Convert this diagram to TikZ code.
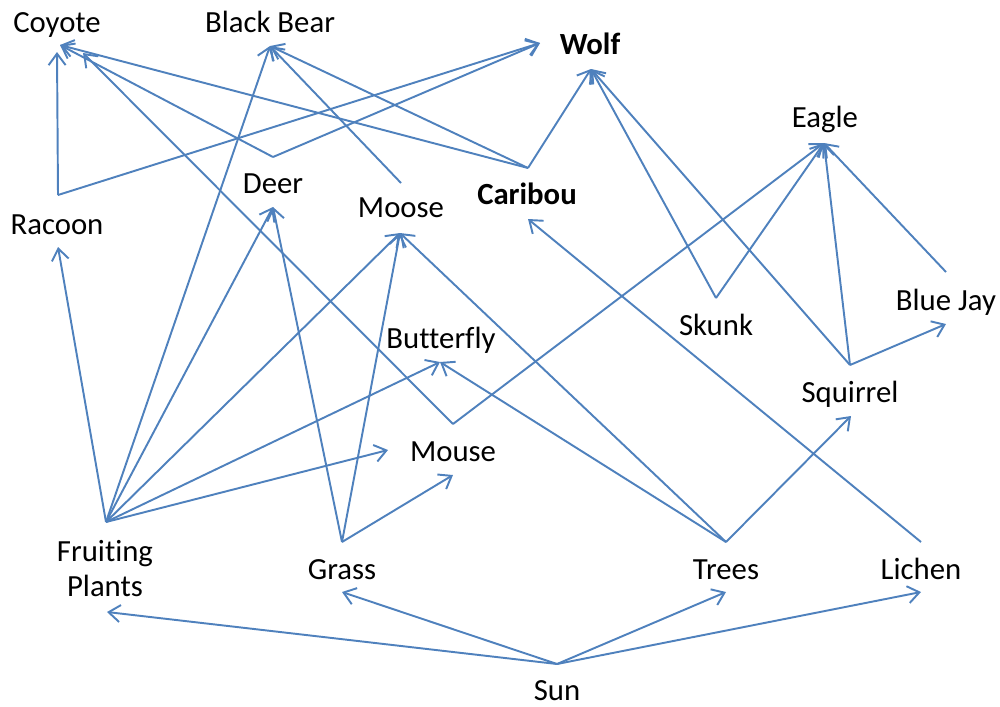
\documentclass[tikz,border=0pt]{standalone}
\usepackage{fontspec}
\setmainfont{Carlito}[Ligatures=NoCommon]
\usepackage{tikz}
\usetikzlibrary{arrows.meta}

\begin{document}
\begin{tikzpicture}[x=0.2mm, y=-0.2mm]
  % Define colors
  \definecolor{webblue}{RGB}{79,129,189}

  % Styles
  \tikzset{
    species/.style={font=\fontsize{17.5}{20}\selectfont, inner sep=0pt, anchor=base},
    feeds/.style={draw=webblue, line width=1.1pt, -{Straight Barb[length=2.3mm, width=3.4mm]}}
  }

  \useasboundingbox (0,0) rectangle (1000,706);

  % Species labels (x, baseline y)
  \foreach \name/\x/\y/\txt in {
    coyote/57/32/Coyote,
    bear/270/32/Black Bear,
    eagle/825/127/Eagle,
    deer/273/193/Deer,
    moose/401/217/Moose,
    racoon/57/234/Racoon,
    skunk/716/335/Skunk,
    bluejay/946/310/Blue Jay,
    butterfly/441/348/Butterfly,
    squirrel/850/402/Squirrel,
    mouse/453/461/Mouse,
    grass/342/579/Grass,
    trees/726/579/Trees,
    lichen/921/579/Lichen,
    sun/557/700/Sun%
  } {
    \node[species] (\name) at (\x,\y) {\txt};
  }

  % Top predators in bold
  \node[species, font=\fontsize{17.5}{20}\selectfont\bfseries] (wolf) at (590,54) {Wolf};
  \node[species, font=\fontsize{17.5}{20}\selectfont\bfseries] (caribou) at (527,204) {Caribou};

  % Two-line label
  \node[species, anchor=north, align=center] (fp) at (105,540) {Fruiting\\Plants};

  % Where the connectors leave and arrive
  \foreach \name/\x/\y in {
    sun-out/557/664, fp-out/106/522, grass-out/342/542, trees-out/726/542,
    lichen-out/921/542, mouse-out/453/424, squirrel-out/850/365,
    skunk-out/716/298, bluejay-out/946/272, racoon-out/58/195,
    deer-out/273/157, moose-out/401/183, caribou-out/528/168,
    fp-in/107/612, grass-in/342/592, trees-in/726/592, lichen-in/921/592,
    mouse-in/453/475, mouse-left/388/450, squirrel-in/851/416,
    bluejay-in/946/324, butterfly-in/440/362, racoon-in/58/247,
    deer-in/273/207, moose-in/400/233, caribou-in/528/219,
    eagle-in/824/143, wolf-in/591/69, wolf-left/540/43,
    bear-in/270/46, coyote-in/60/45, coyote-mid/57/52, coyote-low/83/53%
  } {
    \coordinate (\name) at (\x,\y);
  }

  % Energy flow (eaten -> eater)
  \foreach \from/\to in {
    sun-out/fp-in, sun-out/grass-in, sun-out/trees-in, sun-out/lichen-in,
    fp-out/racoon-in, fp-out/bear-in, fp-out/deer-in, fp-out/moose-in,
    fp-out/butterfly-in, fp-out/mouse-left,
    grass-out/deer-in, grass-out/moose-in, grass-out/mouse-in,
    trees-out/moose-in, trees-out/butterfly-in, trees-out/squirrel-in,
    lichen-out/caribou-in,
    mouse-out/coyote-low, mouse-out/eagle-in,
    squirrel-out/wolf-in, squirrel-out/eagle-in, squirrel-out/bluejay-in,
    skunk-out/wolf-in, skunk-out/eagle-in,
    bluejay-out/eagle-in,
    racoon-out/coyote-mid, racoon-out/wolf-left,
    deer-out/coyote-in, deer-out/wolf-left,
    moose-out/bear-in,
    caribou-out/coyote-in, caribou-out/bear-in, caribou-out/wolf-in%
  } {
    \draw[feeds] (\from) -- (\to);
  }

\end{tikzpicture}
\end{document}
